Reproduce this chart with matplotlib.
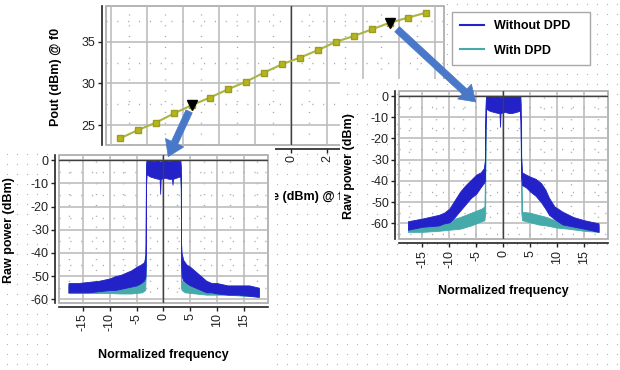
import numpy as np
import matplotlib
matplotlib.use('Agg')
import matplotlib.pyplot as plt
from matplotlib.patches import ConnectionPatch
from matplotlib.lines import Line2D
from matplotlib.ticker import MultipleLocator

plt.rcParams['font.family'] = ['Liberation Sans', 'DejaVu Sans']
plt.rcParams['axes.unicode_minus'] = False

# ---- data ----
# power sweep (top chart)
pin = [-9.5, -8.5, -7.5, -6.5, -5.5, -4.5, -3.5, -2.5, -1.5, -0.5,
       0.5, 1.5, 2.5, 3.5, 4.5, 5.5, 6.5, 7.5]
pout = [23.4, 24.4, 25.3, 26.4, 27.4, 28.3, 29.3, 30.2, 31.3, 32.3,
        33.1, 34.0, 35.0, 35.7, 36.5, 37.3, 37.9, 38.5]
marked = [4, 15]   # sweep points whose spectra are shown

# low drive spectrum (left), envelope of the noisy trace
lo_f_nodpd = [-17.7, -16, -14, -12, -10, -9, -8, -7, -6, -5, -4.2, -3.6, -3.35, -3.3, -3.25,
              -3.15, -2.5, -1.8, -1.0, -0.7, -0.6, -0.5, 0.3, 1.0, 1.6, 1.7, 1.8, 2.4, 3.0, 3.15,
              3.25, 3.3, 3.4, 3.7, 4.3, 5, 6, 7, 8, 9, 10, 12, 14, 16, 17.8]
lo_hi_nodpd = [-53, -53, -52.5, -52, -51, -50, -49.5, -48.5, -47.5, -46, -45, -44, -41, -36, -3,
               0, 0, -0.5, 0, -0.5, -3, -0.5, 0, -0.5, 0, -1, 0, 0, -0.5, 0,
               -3, -36, -40, -43, -45, -46, -48, -50, -52, -53, -53, -54, -54, -54, -55]
lo_lo_nodpd = [-57, -57, -57, -56.5, -56, -56, -55.5, -55, -54.5, -54, -53, -52, -50, -46, -12,
               -6, -7, -7.5, -8, -8, -14.5, -8, -7.5, -8, -8, -10.5, -8, -7.5, -7, -6,
               -12, -45, -50, -52, -53, -54, -55, -56, -57, -57, -57.5, -58, -58, -58.5, -59]

lo_f_dpd = [-17.7, -15, -12, -10, -8, -6, -4, -3.4, -3.3, -3.25, -3.15,
            3.15, 3.25, 3.3, 3.4, 4, 6, 8, 10, 12, 15, 17.8]
lo_hi_dpd = [-54, -53.5, -53.5, -53.5, -53.5, -53, -53, -52, -40, -3, 0,
             0, -3, -50, -52, -53, -54, -54.5, -55, -55, -55, -55.5]
lo_lo_dpd = [-57.3, -57.3, -57.3, -57.3, -57.5, -57.5, -57, -56, -50, -12, -6,
             -6, -12, -55, -56, -57, -57.5, -58, -58, -58, -58.5, -58.5]

# high drive spectrum (right)
hi_f_nodpd = [-17.7, -15, -12, -11, -10, -9, -8, -7, -6, -5, -4.2, -3.6, -3.4, -3.3, -3.2,
              -2.5, -1.8, -1.0, -0.7, -0.6, -0.5, 0.3, 1.0, 1.6, 2.4, 3.0, 3.1, 3.2,
              3.3, 3.5, 4.2, 5, 6, 7, 7.8, 8.5, 9.5, 11, 13, 15, 17.7]
hi_hi_nodpd = [-59, -57.7, -56, -55, -53, -49, -45, -42, -39.5, -37, -36, -34, -30, -6, 0,
               0, -0.5, 0, -0.5, -3, -0.5, 0, -0.5, 0, 0, -0.5, 0, -4,
               -28, -36, -37, -38, -39, -41, -44, -48, -52, -54.5, -57, -58.5, -60]
hi_lo_nodpd = [-63, -61.6, -61, -60, -59.5, -57, -54, -51, -48, -46, -43, -41, -40, -15, -6,
               -7, -7.5, -8, -8, -14.5, -8, -7.5, -8, -8, -7.5, -7, -6, -12,
               -38, -42, -43, -45, -47, -50, -53, -56, -58, -60.5, -61.5, -62.5, -64]

hi_f_dpd = [-17.7, -15, -12, -10, -8, -6, -5, -4, -3.5, -3.35, -3.3, -3.2,
            3.2, 3.3, 3.35, 3.5, 5, 6.5, 8, 10, 12, 15, 17.7]
hi_hi_dpd = [-60.5, -60, -59.5, -58.5, -57, -55, -54, -53, -52, -33, -6, 0,
             0, -4, -36, -54.5, -55, -56, -57, -59, -59.5, -60, -61]
hi_lo_dpd = [-64, -64, -63.5, -63, -62.5, -61, -60, -59, -58.5, -55, -15, -6,
             -6, -12, -55, -58.5, -59.5, -60.5, -61, -62, -62.5, -63.5, -64]

BLUE = '#2222c8'
TEAL = '#46a9aa'
ARROW = '#4a78c8'

W, H = 620, 370


def rect(x0, y0, x1, y1):
    # pixel box (top-left origin) -> figure fraction
    return [x0 / W, 1 - y1 / H, (x1 - x0) / W, (y1 - y0) / H]


fig = plt.figure(figsize=(6.2, 3.7), dpi=100)


def box(x0, y0, x1, y1, z, dots=False):
    ax = fig.add_axes(rect(x0, y0, x1, y1), zorder=z)
    ax.set_xlim(x0, x1)
    ax.set_ylim(y1, y0)
    ax.set_xticks([])
    ax.set_yticks([])
    for s in ax.spines.values():
        s.set_visible(False)
    ax.set_facecolor('white')
    if dots:
        gx = np.arange(x0 + (6.7 - x0) % 10, x1, 10)
        gy = np.arange(y0 + (4 - y0) % 10, y1, 10)
        xx, yy = np.meshgrid(gx, gy)
        ax.plot(xx.ravel(), yy.ravel(), ls='none', marker='s', ms=0.8,
                mfc='#b4b4b4', mec='none')
    return ax


def style(ax, xmaj, xmin, ymaj, ymin):
    ax.set_facecolor('white')
    ax.xaxis.set_major_locator(MultipleLocator(xmaj))
    ax.xaxis.set_minor_locator(MultipleLocator(xmin))
    ax.yaxis.set_major_locator(MultipleLocator(ymaj))
    ax.yaxis.set_minor_locator(MultipleLocator(ymin))
    ax.grid(True, which='major', color='#bdbdbd', lw=1.2)
    ax.grid(True, which='minor', color='#a8a8a8', lw=1, ls=(0, (0.8, 7)))
    ax.set_axisbelow(True)
    for s in ('top', 'right'):
        ax.spines[s].set_visible(False)
    for s in ('left', 'bottom'):
        ax.spines[s].set_position(('outward', 3))
        ax.spines[s].set_color('#222222')
        ax.spines[s].set_linewidth(1.2)
    ax.patch.set_edgecolor('#a8a8a8')
    ax.patch.set_linewidth(1.2)
    ax.tick_params(which='major', direction='out', length=3, width=1,
                   color='#222222', labelsize=9, labelcolor='#222222', pad=1.5)
    ax.tick_params(which='minor', length=0)


# page background and white chart boxes
box(0, 0, W, H, 0, dots=True)
box(0, 0, 446, 147, 0.5)

# ---- top chart: Pout vs input ----
ax_top = fig.add_axes(rect(106, 6, 444, 145), zorder=1)
style(ax_top, 2, 1, 5, 2.5)
ax_top.axvline(0, color='#404040', lw=1, zorder=2)
ax_top.plot(pin, pout, color='#a9b545', lw=1.5, marker='s', ms=4.5,
            mfc='#b5b520', mec='#9d9d1c', zorder=3)
ax_top.plot([pin[i] for i in marked], [pout[i] for i in marked], ls='none',
            marker='v', ms=6.5, color='black', zorder=4)
ax_top.set_xlim(-10.28, 8.5)
ax_top.set_ylim(22.6, 39.3)
ax_top.tick_params(axis='x', labelrotation=90)
ax_top.set_ylabel('Pout (dBm) @ f0', fontweight='bold', fontsize=9)
ax_top.yaxis.set_label_coords(-0.131, 0.49)
ax_top.set_xlabel('Input source (dBm) @ f0', fontweight='bold', fontsize=9,
                  ha='right', va='center')
ax_top.xaxis.set_label_coords((349 - 106) / 338, -(197 - 145) / 139)


def spectrum(ax, f1, lo1, hi1, f2, lo2, hi2, xlim, ylim):
    style(ax, 5, 2.5, 10, 5)
    ax.fill_between(f2, lo2, hi2, color=TEAL, lw=0.6, zorder=2)
    ax.fill_between(f1, lo1, hi1, color=BLUE, lw=0.6, zorder=2.5)
    ax.axvline(0, color='#404040', lw=1, zorder=3)
    ax.axhline(0, color='#404040', lw=1, zorder=3)
    ax.set_xlim(*xlim)
    ax.set_ylim(*ylim)
    ax.tick_params(axis='x', labelrotation=90)
    ax.set_xlabel('Normalized frequency', fontweight='bold', fontsize=9)
    ax.set_ylabel('Raw power (dBm)', fontweight='bold', fontsize=9)
    ax.xaxis.set_label_coords(0.498, -0.31)
    ax.yaxis.set_label_coords(-0.212, 0.49)


# ---- left spectrum (low drive) ----
box(48, 147, 275, 370, 2)
ax_lc = fig.add_axes(rect(59.3, 154.5, 268, 303), zorder=3)
spectrum(ax_lc, lo_f_nodpd, lo_lo_nodpd, lo_hi_nodpd,
         lo_f_dpd, lo_lo_dpd, lo_hi_dpd, (-19.4, 19.5), (-61.6, 2.5))

# ---- right spectrum (high drive) ----
box(340, 79, 612, 302, 4, dots=True)
ax_rc = fig.add_axes(rect(399.3, 90.7, 608.3, 239.3), zorder=5)
spectrum(ax_rc, hi_f_nodpd, hi_lo_nodpd, hi_hi_nodpd,
         hi_f_dpd, hi_lo_dpd, hi_hi_dpd, (-19.3, 19.5), (-67.5, 2.5))

# legend
handles = [Line2D([], [], color=BLUE, lw=1.5), Line2D([], [], color=TEAL, lw=1.5)]
leg = fig.legend(handles, ['Without DPD', 'With DPD'], loc='upper left',
                 bbox_to_anchor=(452 / W, 1 - 63 / H, 138 / W, 51 / H), mode='expand',
                 frameon=True, fancybox=False, framealpha=1, edgecolor='#a8a8a8',
                 prop={'weight': 'bold', 'size': 9}, handlelength=1.9,
                 handletextpad=0.8, labelspacing=1.0, borderpad=0.65, borderaxespad=0)
leg.set_zorder(6)

# arrows from the marked sweep points to their spectra
style_arrow = 'simple,head_length=1.1,head_width=1.45,tail_width=0.5'
for i, ax, tip, shrink in [(marked[0], ax_lc, (0.9, 1.6), 5),
                           (marked[1], ax_rc, (-5.1, -2.8), 7)]:
    con = ConnectionPatch(xyA=(pin[i], pout[i]), coordsA=ax_top.transData,
                          xyB=tip, coordsB=ax.transData, arrowstyle=style_arrow,
                          mutation_scale=10, shrinkA=shrink, shrinkB=0,
                          fc=ARROW, ec=ARROW, lw=0.5, zorder=7)
    fig.add_artist(con)

fig.savefig('out.png', dpi=100)
